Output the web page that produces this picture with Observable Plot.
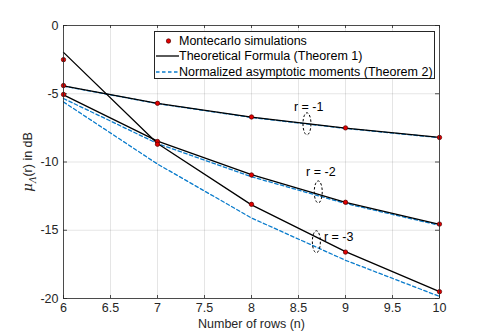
<!DOCTYPE html>
<html>
<head>
<meta charset="utf-8">
<script src="https://cdn.jsdelivr.net/npm/d3@7"></script>
<script src="https://cdn.jsdelivr.net/npm/@observablehq/plot@0.6"></script>
<style>
  html, body { margin: 0; padding: 0; background: #fff; }
  #wrap { position: relative; width: 485px; height: 336px; font-family: "Liberation Sans", Arial, sans-serif; }
  #legend { position: absolute; left: 154px; top: 31px; width: 281px; height: 48px; border: 1px solid #262626; background: #fff; box-sizing: border-box; font-size: 12.5px; color: #000; }
  #legend .row { position: absolute; left: 0; height: 16px; line-height: 16px; white-space: nowrap; }
  #legend .sw { position: absolute; left: 1px; width: 23px; height: 16px; }
  #legend .tx { position: absolute; left: 24px; }
</style>
</head>
<body>
<div id="wrap"></div>
<script>
// ---- data ----
const rows = [6, 7, 8, 9, 10];
const rValues = [-1, -2, -3];
// Montecarlo simulations (dB)
const monte_r1 = [-4.40, -5.70, -6.70, -7.50, -8.20];
const monte_r2 = [-5.05, -8.50, -10.95, -12.95, -14.55];
const monte_r3 = [-2.50, -8.70, -13.10, -16.60, -19.50];
// Theoretical formula (Theorem 1)
const theo_r1 = [-4.42, -5.70, -6.72, -7.52, -8.20];
const theo_r2 = [-5.08, -8.47, -10.92, -12.96, -14.57];
const theo_r3 = [-1.97, -8.65, -13.14, -16.57, -19.50];
// Normalized asymptotic moments (Theorem 2)
const asym_r1 = [-4.44, -5.72, -6.74, -7.54, -8.22];
const asym_r2 = [-5.35, -8.65, -11.08, -13.04, -14.64];
const asym_r3 = [-5.60, -10.15, -14.10, -17.20, -19.85];
// annotations
const annotLabels = ["r = -1", "r = -2", "r = -3"];
const annotEllipseX = [8.59, 8.71, 8.69];
const annotEllipseY = [-7.20, -12.19, -15.84];
const annotTextX = [8.60, 8.73, 8.77];
const annotTextY = [-5.95, -10.75, -15.50];
const xTicks = [6, 6.5, 7, 7.5, 8, 8.5, 9, 9.5, 10];
const yTicks = [0, -5, -10, -15, -20];
const legendLabels = ["Montecarlo simulations", "Theoretical Formula (Theorem 1)", "Normalized asymptotic moments (Theorem 2)"];
const xLabel = "Number of rows (n)";

// ---- build tables ----
const monte = [monte_r1, monte_r2, monte_r3];
const theo = [theo_r1, theo_r2, theo_r3];
const asym = [asym_r1, asym_r2, asym_r3];
const toRows = (arrs) => arrs.flatMap((vals, k) => vals.map((v, i) => ({n: rows[i], v, r: rValues[k]})));
const monteData = toRows(monte);
const theoData = toRows(theo);
const asymData = toRows(asym);
const annots = annotLabels.map((t, i) => ({t, ex: annotEllipseX[i], ey: annotEllipseY[i], tx: annotTextX[i], ty: annotTextY[i], anchor: i === 2 ? "start" : "middle"}));

const BLUE = "#0a7ccc";
const AX = "#262626";

// custom ellipse symbol (fixed size)
const ellipseSymbol = {
  draw(ctx) {
    const rx = 4, ry = 11, k = 0.5523;
    ctx.moveTo(rx, 0);
    ctx.bezierCurveTo(rx, ry * k, rx * k, ry, 0, ry);
    ctx.bezierCurveTo(-rx * k, ry, -rx, ry * k, -rx, 0);
    ctx.bezierCurveTo(-rx, -ry * k, -rx * k, -ry, 0, -ry);
    ctx.bezierCurveTo(rx * k, -ry, rx, -ry * k, rx, 0);
    ctx.closePath();
  }
};

const chart = Plot.plot({
  width: 485,
  height: 336,
  marginLeft: 63,
  marginRight: 46,
  marginTop: 25,
  marginBottom: 38,
  style: {fontFamily: "Liberation Sans, Arial, sans-serif", fontSize: "12px", color: AX, background: "#fff"},
  x: {domain: [6, 10]},
  y: {domain: [-20, 0]},
  marks: [
    Plot.gridX(xTicks, {stroke: "#000", strokeOpacity: 0.1}),
    Plot.gridY(yTicks, {stroke: "#000", strokeOpacity: 0.1}),
    Plot.axisX(xTicks, {anchor: "bottom", tickSize: 0, tickPadding: 5, tickFormat: d => String(d), fontSize: 12.5, label: null, color: AX}),
    Plot.axisY(yTicks, {anchor: "left", tickSize: 0, tickPadding: 5, tickFormat: d => String(d), fontSize: 12.5, label: null, color: AX}),
    Plot.tickX(xTicks, {x: d => d, stroke: AX, insetTop: 270, strokeWidth: 0.8}),
    Plot.tickX(xTicks, {x: d => d, stroke: AX, insetBottom: 270, strokeWidth: 0.8}),
    Plot.tickY(yTicks, {y: d => d, stroke: AX, insetRight: 372, strokeWidth: 0.8}),
    Plot.tickY(yTicks, {y: d => d, stroke: AX, insetLeft: 372, strokeWidth: 0.8}),
    Plot.line(asymData, {x: "n", y: "v", z: "r", stroke: BLUE, strokeWidth: 1.3, strokeDasharray: "3.5,2.5"}),
    Plot.line(theoData, {x: "n", y: "v", z: "r", stroke: "#000", strokeWidth: 1.3}),
    Plot.dot(monteData, {x: "n", y: "v", r: 2.2, fill: "#e00000", stroke: "#500", strokeWidth: 0.7}),
    Plot.dot(annots, {x: "ex", y: "ey", symbol: ellipseSymbol, r: 5, fill: "none", stroke: "#000", strokeWidth: 1, strokeDasharray: "2.5,2"}),
    Plot.text(annots, {x: "tx", y: "ty", text: "t", textAnchor: "start", fontSize: 12.5, fill: "#000", dx: -14, filter: d => d.anchor === "middle"}),
    Plot.text(annots, {x: "tx", y: "ty", text: "t", textAnchor: "start", fontSize: 12.5, fill: "#000", filter: d => d.anchor === "start"}),
    Plot.text([xLabel], {text: d => d, frameAnchor: "bottom", dy: 29, fontSize: 12.5, fill: AX}),
    Plot.frame({stroke: AX, strokeWidth: 0.8})
  ]
});

// y label with subscript
const svg = d3.select(chart);
const yl = svg.append("text")
  .attr("transform", "translate(32,162) rotate(-90)")
  .attr("text-anchor", "middle")
  .attr("fill", AX)
  .style("font-size", "12.5px")
  .style("font-family", "Liberation Sans, Arial, sans-serif");
yl.append("tspan").text("\u03bc").style("font-style", "italic").style("font-size", "13.5px").style("font-family", "DejaVu Serif, serif");
yl.append("tspan").text("\u039b").attr("dy", 4).style("font-size", "9px").style("font-style", "italic").style("font-family", "DejaVu Serif, serif");
yl.append("tspan").text("(r) in dB").attr("dy", -4);

const wrap = document.getElementById("wrap");
wrap.appendChild(chart);

// legend (HTML overlay inside plot area)
const legend = document.createElement("div");
legend.id = "legend";
const swatches = [
  '<svg width="23" height="16"><circle cx="12.5" cy="8" r="2.2" fill="#e00000" stroke="#500" stroke-width="0.7"/></svg>',
  '<svg width="23" height="16"><line x1="0" y1="8" x2="23" y2="8" stroke="#000" stroke-width="1.3"/></svg>',
  '<svg width="23" height="16"><line x1="0" y1="8" x2="23" y2="8" stroke="' + BLUE + '" stroke-width="1.3" stroke-dasharray="3.5,2.5"/></svg>'
];
legendLabels.forEach((lab, i) => {
  const row = document.createElement("div");
  row.className = "row";
  row.style.top = (0.5 + i * 15.7) + "px";
  row.innerHTML = '<span class="sw">' + swatches[i] + '</span><span class="tx"></span>';
  row.querySelector(".tx").textContent = lab;
  legend.appendChild(row);
});
wrap.appendChild(legend);
</script>
</body>
</html>
